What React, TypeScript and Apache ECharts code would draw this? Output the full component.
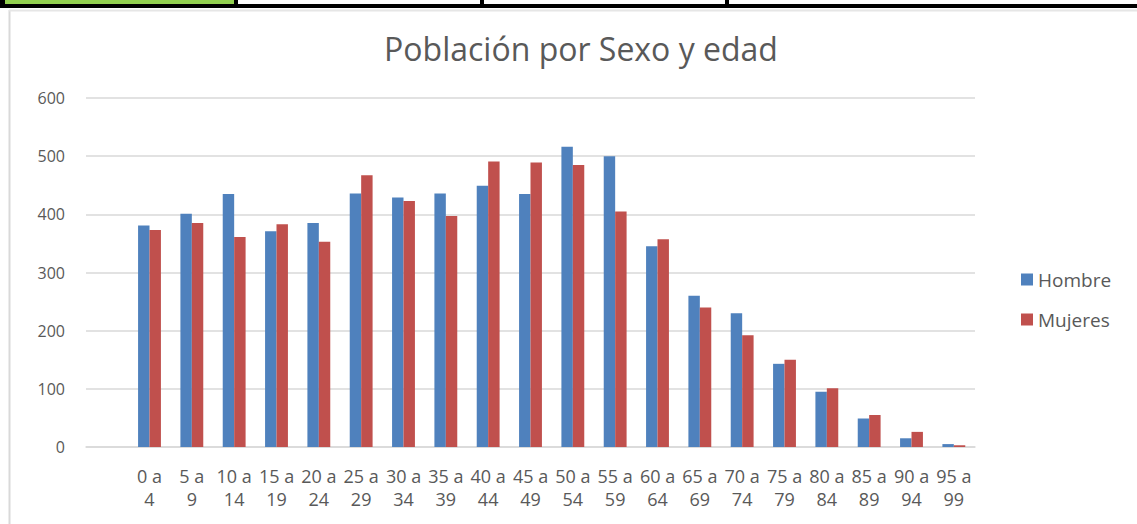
import React, { useEffect, useRef } from "react";
import * as echarts from "echarts";

const title = "Población por Sexo y edad";
const categories = ["", "0 a\n4", "5 a\n9", "10 a\n14", "15 a\n19", "20 a\n24", "25 a\n29", "30 a\n34", "35 a\n39", "40 a\n44", "45 a\n49", "50 a\n54", "55 a\n59", "60 a\n64", "65 a\n69", "70 a\n74", "75 a\n79", "80 a\n84", "85 a\n89", "90 a\n94", "95 a\n99"];
const hombre = [null, 381, 401, 435, 371, 385, 436, 429, 436, 449, 435, 516, 500, 345, 260, 230, 143, 95, 49, 15, 5];
const mujeres = [null, 373, 385, 361, 383, 353, 467, 423, 397, 491, 489, 485, 405, 357, 240, 192, 150, 101, 55, 26, 3];
const seriesNames = ["Hombre", "Mujeres"];
const yTicks = { min: 0, max: 600, interval: 100 };

export default function App() {
  const ref = useRef<HTMLDivElement>(null);
  useEffect(() => {
    if (!ref.current) return;
    const chart = echarts.init(ref.current, undefined, { renderer: "svg" });
    const font = "'Open Sans', sans-serif";
    chart.setOption({
      animation: false,
      backgroundColor: "#ffffff",
      textStyle: { fontFamily: font },
      title: {
        text: title,
        left: 576,
        textAlign: "center",
        top: 27,
        textStyle: { fontSize: 32, fontWeight: "normal", color: "#595959", fontFamily: font },
      },
      legend: {
        orient: "vertical",
        left: 1016,
        top: 265,
        itemWidth: 12,
        itemHeight: 12,
        itemGap: 21,
        icon: "rect",
        textStyle: { fontSize: 19, color: "#595959", fontFamily: font, padding: [0, 0, 0, 0] },
        data: seriesNames,
      },
      grid: { left: 86, right: 162, top: 98, bottom: 77, containLabel: false },
      xAxis: {
        type: "category",
        data: categories,
        axisTick: { show: false },
        axisLine: { show: true, lineStyle: { color: "#D9D9D9", width: 1.5 } },
        axisLabel: { interval: 0, fontSize: 18, color: "#595959", margin: 17, lineHeight: 23, fontFamily: font },
      },
      yAxis: {
        type: "value",
        min: yTicks.min,
        max: yTicks.max,
        interval: yTicks.interval,
        axisLine: { show: false },
        axisTick: { show: false },
        splitLine: { lineStyle: { color: "#D9D9D9", width: 1.5 } },
        axisLabel: { fontSize: 16, color: "#595959", margin: 21, fontFamily: font },
      },
      series: [
        {
          name: seriesNames[0],
          type: "bar",
          data: hombre,
          itemStyle: { color: "#4F81BD" },
          barGap: "0%",
          barCategoryGap: "46%",
        },
        {
          name: seriesNames[1],
          type: "bar",
          data: mujeres,
          itemStyle: { color: "#C0504D" },
          barGap: "0%",
          barCategoryGap: "46%",
        },
      ],
      graphic: [
        { type: "rect", shape: { x: 0, y: 0, width: 1137, height: 8 }, style: { fill: "#000000" }, silent: true },
        { type: "rect", shape: { x: 5, y: 0, width: 229, height: 4 }, style: { fill: "#92D050" }, silent: true },
        { type: "rect", shape: { x: 238, y: 0, width: 242, height: 4 }, style: { fill: "#ffffff" }, silent: true },
        { type: "rect", shape: { x: 484, y: 0, width: 241, height: 4 }, style: { fill: "#ffffff" }, silent: true },
        { type: "rect", shape: { x: 729, y: 0, width: 408, height: 4 }, style: { fill: "#ffffff" }, silent: true },
        { type: "line", shape: { x1: 9.5, y1: 10, x2: 9.5, y2: 524 }, style: { stroke: "#D9D9D9", lineWidth: 2 }, silent: true },
        { type: "line", shape: { x1: 9, y1: 10.5, x2: 1137, y2: 10.5 }, style: { stroke: "#E6E6E6", lineWidth: 2 }, silent: true },
      ],
    });
    return () => chart.dispose();
  }, []);
  return <div ref={ref} style={{ position: "fixed", left: 0, top: 0, width: 1137, height: 524 }} />;
}
